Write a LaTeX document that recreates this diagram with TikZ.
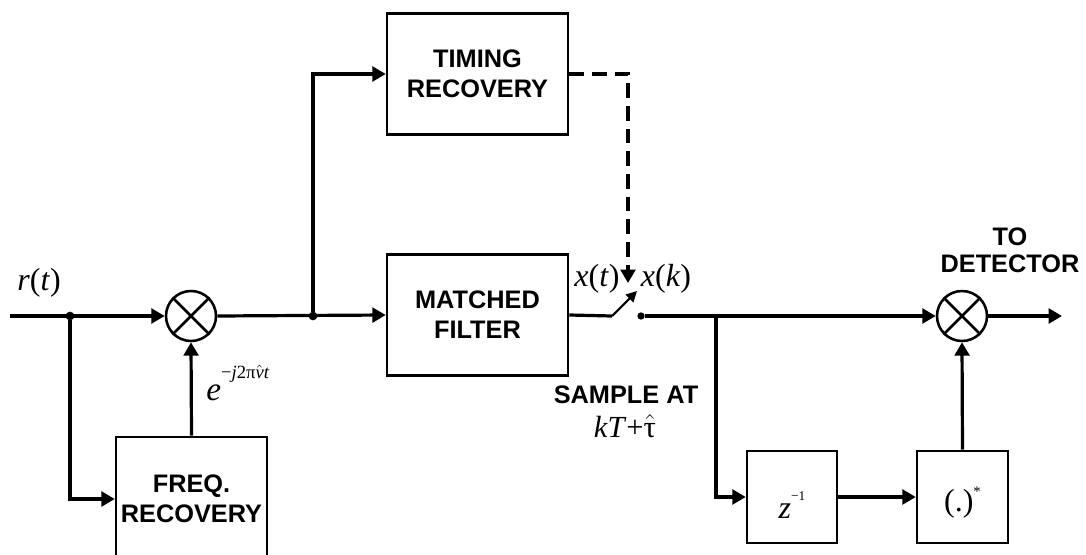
\documentclass[tikz,border=0pt]{standalone}
\usepackage{fontspec}
\setmainfont{Liberation Sans}
\newfontfamily\tms{Liberation Serif}
\usetikzlibrary{arrows.meta}

\begin{document}
\begin{tikzpicture}[x=0.75pt, y=-0.75pt,
  blk/.style = {draw, line width=1.9pt, inner sep=0pt, align=center, font=\bfseries\fontsize{19}{22.5}\selectfont},
  mix/.style = {draw, circle, line width=1.9pt, minimum size=37.5pt, inner sep=0pt},
  sig/.style = {line width=2.4pt, -{Triangle[length=10pt,width=11pt]}},
  dot/.style = {circle, fill, minimum size=#1, inner sep=0pt, outer sep=0pt}, dot/.default = 6.5pt,
  lbl/.style = {font=\tms\fontsize{24}{28}\selectfont, inner sep=0pt}]

\useasboundingbox (0,0) rectangle (1086,554);

% Blocks
\node[blk, minimum width=135.75pt, minimum height=90.75pt] (timing) at (477.5,74) {TIMING\\RECOVERY};
\node[blk, minimum width=135.75pt, minimum height=90.75pt] (mf) at (477.5,315) {MATCHED\\FILTER};
\node[blk, minimum width=113.25pt, minimum height=93pt] (freq) at (191.5,499) {FREQ.\\RECOVERY};
\node[blk, minimum width=67.5pt, minimum height=69pt, font=\tms\fontsize{24}{24}\selectfont] (delay) at (792,497)
  {\raisebox{-6pt}[\height][\depth]{\textit{z}\raisebox{13pt}{\fontsize{10}{10}\selectfont −1}}};
\node[blk, minimum width=68.25pt, minimum height=69pt, font=\tms\fontsize{24}{24}\selectfont] (conj) at (962.5,497)
  {\raisebox{-4pt}[\height][\depth]{(.)\raisebox{11pt}{\fontsize{11}{11}\selectfont *}}};

% Mixers
\node[mix] (mix1) at (191,316) {};
\node[mix] (mix2) at (962,316) {};
\foreach \m in {mix1,mix2} {
  \draw[line width=1.9pt] (\m.45) -- (\m.225) (\m.135) -- (\m.315);
}

% Points
\coordinate (in) at (10,316);
\node[dot] (j1) at (70,316) {};
\node[dot] (j2) at (313,316) {};
\coordinate (sw) at (612,316);
\coordinate (swtip) at (637,291);
\coordinate (strobe) at (628,283);
\node[dot=5.5pt] (contact) at (641,316) {};
\coordinate (j3) at (716,316);
\coordinate (out) at (1062,316);

% Connections
\draw[sig] (in) -- (mix1.west);
\draw[sig] (j1) |- (freq);
\draw[sig] (freq.north) -- (mix1.south);
\draw[sig] (mix1.east) -- (mf.west);
\draw[sig] (j2) |- (timing);
\draw[line width=2.4pt] (mf.east) -- (sw);
\draw[line width=1.6pt, -{Triangle[length=8pt,width=8pt]}] (sw) -- (swtip);
\draw[sig, dash pattern=on 11pt off 6pt] (timing.east) -| (strobe);
\draw[sig] (contact) -- (mix2.west);
\draw[sig] (j3) |- (delay);
\draw[sig] (delay) -- (conj);
\draw[sig] (conj.north) -- (mix2.south);
\draw[sig] (mix2.east) -- (out);

% Labels
\node[lbl] (rt) at (39,283) {\textit{r}(\textit{t})};
\node[lbl, anchor=base west, font=\tms\fontsize{25}{28}\selectfont] (expo) at (206,400)
  {\textit{e}\raisebox{16pt}{\fontsize{14}{14}\selectfont −\textit{j}2π$\hat{\mbox{\textit{ν}}}$\textit{t}}};
\node[lbl] (xt) at (597,279) {\textit{x}(\textit{t})};
\node[lbl] (xk) at (666,279) {\textit{x}(\textit{k})};
\node[font=\bfseries\fontsize{19}{22}\selectfont, inner sep=1pt] (sample) at (626,395) {SAMPLE AT};
\node[lbl, anchor=base, font=\tms\fontsize{23}{28}\selectfont] (tau) at (625,437) {\textit{kT}+$\hat{\mbox{τ}}$};
\node[align=center, font=\bfseries\fontsize{19}{20}\selectfont] (det) at (1010,250) {TO\\DETECTOR};

\end{tikzpicture}
\end{document}
